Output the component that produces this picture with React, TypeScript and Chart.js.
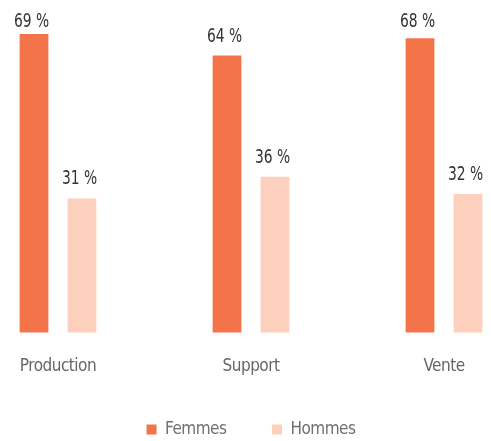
import React, { useEffect, useRef } from "react";
import { Chart, registerables } from "chart.js";

Chart.register(...registerables);

const categories = ["Production", "Support", "Vente"];
const femmes = [69, 64, 68];
const hommes = [31, 36, 32];
const seriesNames = ["Femmes", "Hommes"];

const FONT = "'DejaVu Sans Condensed', 'Liberation Sans Narrow', sans-serif";

const tighten = {
  id: "tighten",
  beforeLayout(chart: any) {
    chart.ctx.letterSpacing = "-0.5px";
  },
  beforeDraw(chart: any) {
    chart.ctx.letterSpacing = "-0.5px";
  },
};

const valueLabels = {
  id: "valueLabels",
  afterDatasetsDraw(chart: any) {
    const { ctx, chartArea } = chart;
    ctx.save();
    ctx.letterSpacing = "0px";
    ctx.font = `20px ${FONT}`;
    ctx.fillStyle = "#333333";
    ctx.textAlign = "center";
    ctx.textBaseline = "alphabetic";
    chart.data.datasets.forEach((ds: any, i: number) => {
      const meta = chart.getDatasetMeta(i);
      meta.data.forEach((bar: any, j: number) => {
        const y = Math.max(bar.y - 14, chartArea.top + 19);
        ctx.save();
        ctx.translate(bar.x - 2.5, y);
        ctx.scale(0.77, 1);
        ctx.fillText(`${ds.data[j]} %`, 0, 0);
        ctx.restore();
      });
    });
    ctx.restore();
  },
};

export default function App() {
  const ref = useRef<HTMLCanvasElement>(null);
  useEffect(() => {
    if (!ref.current) return;
    const chart = new Chart(ref.current, {
      type: "bar",
      data: {
        labels: categories,
        datasets: [
          { label: seriesNames[0], data: femmes, backgroundColor: "#F4744A", clip: false },
          { label: seriesNames[1], data: hommes, backgroundColor: "#FCD0BC", clip: false },
        ],
      },
      options: {
        animation: false,
        responsive: false,
        maintainAspectRatio: false,
        layout: { padding: { top: 8, left: 58, right: 47, bottom: -7 } },
        datasets: {
          bar: { categoryPercentage: 0.497, barPercentage: 0.6 },
        },
        scales: {
          x: {
            offset: false,
            grid: { display: false },
            border: { display: false },
            ticks: {
              color: "#666666",
              font: { family: FONT, size: 17 },
              padding: 16,
              maxRotation: 0,
            },
          },
          y: {
            display: false,
            min: 0,
            max: 75,
          },
        },
        plugins: {
          legend: {
            position: "bottom",
            labels: {
              boxWidth: 10,
              boxHeight: 10,
              color: "#707070",
              font: { family: FONT, size: 17 },
              padding: 28,
              generateLabels(c: any) {
                const items = Chart.defaults.plugins.legend.labels.generateLabels(c);
                items.forEach((it: any, i: number) => {
                  if (i === 0) it.text = it.text + "\u00A0\u00A0\u00A0\u00A0";
                });
                return items;
              },
            },
          },
          tooltip: { enabled: false },
        },
      },
      plugins: [tighten, valueLabels],
    });
    return () => chart.destroy();
  }, []);
  return (
    <div style={{ position: "absolute", left: 0, top: 0, width: 491, height: 441 }}>
      <canvas ref={ref} width={491} height={441} style={{ width: 491, height: 441 }} />
    </div>
  );
}
